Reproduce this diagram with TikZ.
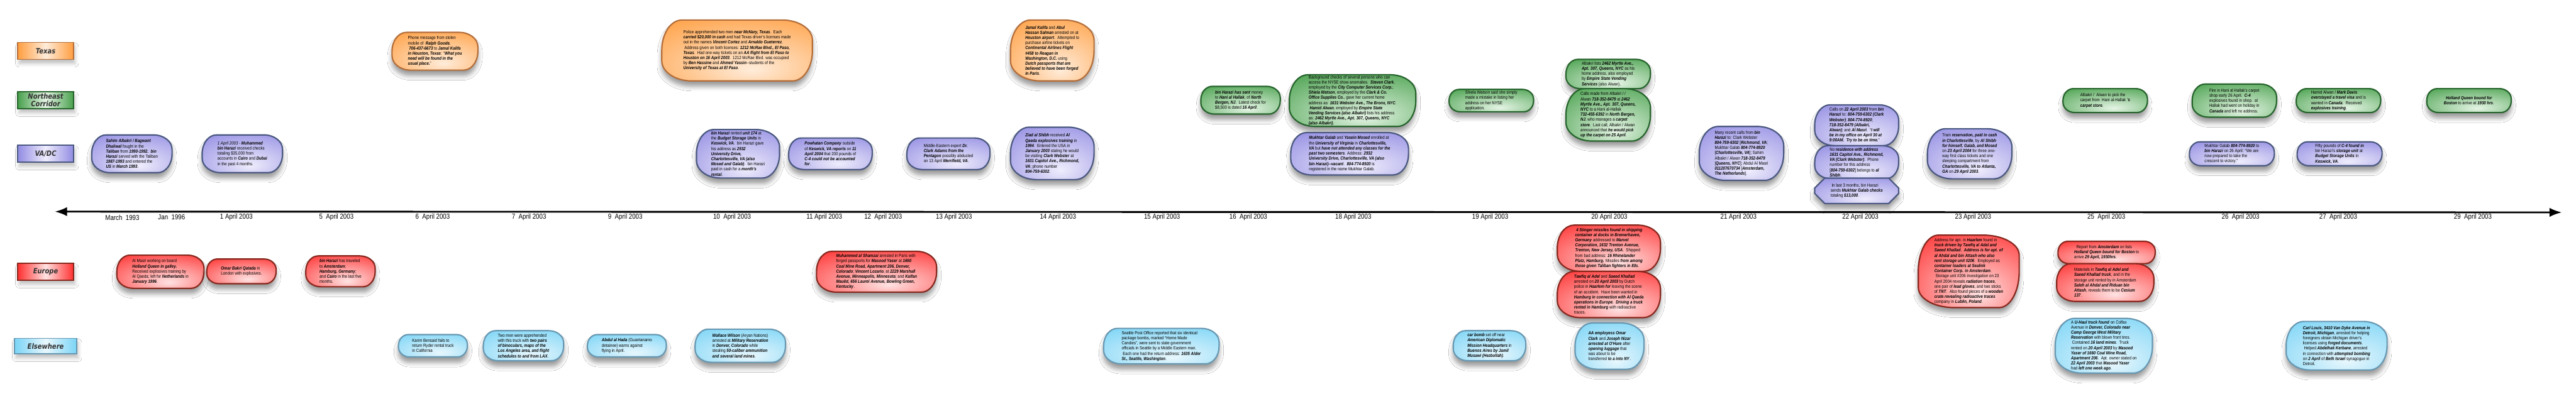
\documentclass[tikz,border=0pt]{standalone}
\usepackage{fontspec}
\setmainfont{Liberation Sans}[FakeStretch=0.86]
\newfontfamily\lanefont{DejaVu Sans}[FakeStretch=0.86]
\usetikzlibrary{arrows.meta,shapes.misc,shadows.blur}
\definecolor{txfill}{RGB}{255,158,64}\definecolor{txlite}{RGB}{255,236,218}\definecolor{txline}{RGB}{180,110,58}
\definecolor{nefill}{RGB}{72,160,76}\definecolor{nelite}{RGB}{228,244,228}\definecolor{neline}{RGB}{38,100,44}
\definecolor{vafill}{RGB}{146,140,226}\definecolor{valite}{RGB}{238,236,252}\definecolor{valine}{RGB}{74,88,128}
\definecolor{eufill}{RGB}{255,48,48}\definecolor{eulite}{RGB}{255,226,226}\definecolor{euline}{RGB}{135,40,30}
\definecolor{elfill}{RGB}{122,212,246}\definecolor{ellite}{RGB}{232,247,253}\definecolor{elline}{RGB}{104,152,178}
\definecolor{lanetext}{RGB}{50,50,50}
\pgfdeclareradialshading{txshade}{\pgfpoint{5bp}{-16bp}}{color(0bp)=(txlite); color(45bp)=(txfill); color(100bp)=(txfill)}
\pgfdeclareradialshading{neshade}{\pgfpoint{5bp}{-16bp}}{color(0bp)=(nelite); color(45bp)=(nefill); color(100bp)=(nefill)}
\pgfdeclareradialshading{vashade}{\pgfpoint{5bp}{-16bp}}{color(0bp)=(valite); color(45bp)=(vafill); color(100bp)=(vafill)}
\pgfdeclareradialshading{eushade}{\pgfpoint{5bp}{-16bp}}{color(0bp)=(eulite); color(45bp)=(eufill); color(100bp)=(eufill)}
\pgfdeclareradialshading{elshade}{\pgfpoint{5bp}{-16bp}}{color(0bp)=(ellite); color(45bp)=(elfill); color(100bp)=(elfill)}
\newcommand\bi[1]{\textbf{\textit{#1}}}
\tikzset{
  ellc/.code args={#1 and #2}{\pgfsetcornersarced{\pgfpoint{#1}{#2}}},
  evbase/.style={draw, line width=3pt, inner sep=0pt, align=left,
    font=\fontsize{9.8}{11.3}\selectfont, shade,
    blur shadow={shadow xshift=0pt, shadow yshift=-12pt, shadow blur radius=10pt, shadow opacity=40}},
  tx/.style={evbase, draw=txline, shading=txshade},
  ne/.style={evbase, draw=neline, shading=neshade},
  va/.style={evbase, draw=valine, shading=vashade},
  eu/.style={evbase, draw=euline, shading=eushade},
  el/.style={evbase, draw=elline, shading=elshade},
  lane/.style={draw, line width=2.4pt, inner sep=0pt, minimum width=122pt, minimum height=37.2pt,
    align=center, text=lanetext, font={\fontsize{16}{17}\lanefont\bfseries\itshape},
    blur shadow={shadow xshift=3pt, shadow yshift=-9pt, shadow blur radius=8pt, shadow opacity=25}},
  datelbl/.style={inner sep=0pt, font=\fontsize{15.6}{16}\selectfont}
}
\newcommand\evt[7]{%
  \pgfmathsetmacro\evh{#6*1.6905}%
  \pgfmathsetmacro\evry{\evh/2-0.6}%
  \pgfmathsetmacro\evrx{min(#6/2+7,44)}%
  \node[#2, minimum width=#5pt, minimum height=\evh pt, ellc=\evrx pt and \evry pt] (#1) at (#3,#4) {#7};}
\begin{document}
\begin{tikzpicture}[x=1pt,y=-1.6905pt]
\fill[white] (0,0) rectangle (5644,517);
\useasboundingbox (0,0) rectangle (5644,517);
% lanes
\node[lane, draw=txline, left color=txfill, right color=txfill, middle color=txlite] (lTexas) at (100,66) {Texas};
\node[lane, draw=neline, left color=nefill, right color=nefill, middle color=nelite] (lNE) at (100,130) {Northeast\\Corridor};
\node[lane, draw=valine, left color=vafill, right color=vafill, middle color=valite] (lVA) at (100,199.5) {VA/DC};
\node[lane, draw=euline, left color=eufill, right color=eufill, middle color=eulite] (lEU) at (100,352.5) {Europe};
\node[lane, draw=elline, left color=elfill, right color=elfill, middle color=ellite, minimum width=136pt, minimum height=33.8pt] (lEL) at (100,449) {Elsewhere};
% axis
\coordinate (axL) at (120,274.5);
\coordinate (axR) at (5613,275.5);
\draw[line width=4pt, {Latex[length=27pt,width=20pt]}-{Latex[length=27pt,width=20pt]}] (axL) -- (axR);
% dates
\node[datelbl] (d01) at (268,282) {March~~1993};
\node[datelbl] (d02) at (376,282) {Jan~~1996};
\node[datelbl] (d03) at (518,282) {1 April 2003};
\node[datelbl] (d04) at (737,282) {5~~April 2003};
\node[datelbl] (d05) at (948,282) {6~~April 2003};
\node[datelbl] (d06) at (1159,282) {7~~April 2003};
\node[datelbl] (d07) at (1370,282) {9~~April 2003};
\node[datelbl] (d08) at (1604,282) {10~~April 2003};
\node[datelbl] (d09) at (1806,282) {11 April 2003};
\node[datelbl] (d10) at (1935,282) {12~~April 2003};
\node[datelbl] (d11) at (2090,282) {13 April 2003};
\node[datelbl] (d12) at (2318,282) {14 April 2003};
\node[datelbl] (d13) at (2546,282) {15 April 2003};
\node[datelbl] (d14) at (2735,282) {16~~April 2003};
\node[datelbl] (d15) at (2965,282) {18 April 2003};
\node[datelbl] (d16) at (3265,282) {19 April 2003};
\node[datelbl] (d17) at (3526,282) {20 April 2003};
\node[datelbl] (d18) at (3809,282) {21 April 2003};
\node[datelbl] (d19) at (4076,282) {22 April 2003};
\node[datelbl] (d20) at (4323,282) {23 April 2003};
\node[datelbl] (d21) at (4615,282) {25~~April 2003};
\node[datelbl] (d22) at (4909,282) {26~~April 2003};
\node[datelbl] (d23) at (5123,282) {27~~April 2003};
\node[datelbl] (d24) at (5418,282) {29~~April 2003};
% Texas
\evt{t1}{tx}{953}{66.5}{188}{49}{Phone message from stolen\\mobile of~~\bi{Ralph Goode},\\~\bi{706-437-6673} to \bi{Jamal Kalifa}\\\bi{in Houston, Texas}: “\bi{What you}\\\bi{need will be found in the}\\\bi{usual place.}”}
\evt{t2}{tx}{1615}{65.5}{330}{79}{Police apprehended two men \bi{near McNary, Texas}.~~Each\\\bi{carried \$20,000 in cash} and had Texas driver’s licenses made\\out in the names \bi{Vincent Cortez} and \bi{Arnaldo Gueterrez}.\\~Address given on both licenses: \bi{1212 McRae Blvd., El Paso,}\\\bi{Texas}.~~Had one-way tickets on an \bi{AA flight from El Paso to}\\\bi{Houston on 16 April 2003}.~~1212 McRae Blvd. was occupied\\by \bi{Ben Hassine} and \bi{Ahmed Yassin}{-}{-}students of the\\\bi{University of Texas at El Paso}.}
\evt{t3}{tx}{2305.5}{65.5}{183}{79}{\bi{Jamal Kalifa} and \bi{Abul}\\\bi{Hassan Salman} arrested on at\\\bi{Houston airport}.~~Attempted to\\purchase airline tickets on\\\bi{Continental Airlines Flight}\\\bi{\#458 to Reagan in}\\\bi{Washington, D.C.} using\\\bi{Dutch passports that are}\\\bi{believed to have been forged}\\\bi{in Paris}.}
% Northeast
\evt{n1}{ne}{2718}{130}{174}{36}{\bi{bin Harazi has sent} money\\to \bi{Hani al Hallak}, of \bi{North}\\\bi{Bergen, NJ}.~~Latest check for\\\$8,500 is dated \bi{16 April}.}
\evt{n2}{ne}{2963.5}{130.5}{277}{67}{Background checks of several persons who can\\access the NYSE show anomalies.~~\bi{Steven Clark},\\employed by the \bi{City Computer Services Corp.};\\\bi{Shiela Watson}, employed by the \bi{Clark \& Co.}\\\bi{Office Supplies Co.}, gave her current home\\address as: \bi{1631 Webster Ave., The Bronx, NYC}.\\~\bi{Hamid Alwan}, employed by \bi{Empire State}\\\bi{Vending Services (also Albakri)} lists his address\\as: \bi{2462 Myrtle Ave., Apt. 307, Queens, NYC}\\\bi{(also Albakri)}.}
\evt{n3}{ne}{3267.5}{130.5}{185}{29}{Shiela Watson said she simply\\made a mistake in listing her\\address on her NYSE\\application.}
\evt{n4}{ne}{3523.5}{96}{185}{38}{Albakri lists \bi{2462 Myrtle Ave.,}\\\bi{Apt. 307, Queens, NYC} as his\\home address, also employed\\by \bi{Empire State Vending}\\\bi{Services} (also Alwan).}
\evt{n5}{ne}{3523.5}{149}{185}{68}{Calls made from Albakri / /\\Alwan \bi{718-352-8479} at \bi{2462}\\\bi{Myrtle Ave., Apt. 307, Queens,}\\\bi{NYC} to a Hani al-Hallak\\\bi{732-455-6392} in \bi{North Bergen,}\\\bi{NJ}, who manages a \bi{carpet}\\\bi{store}.~~Last call, Albakri / Alwan\\announced that \bi{he would pick}\\\bi{up the carpet on 25 April}.}
\evt{n6}{ne}{4612.5}{130.5}{185}{31}{Albakri /~~Alwan to pick the\\carpet from~~Hani al-Hallak \bi{’s}\\\bi{carpet store}.}
\evt{n7}{ne}{4895.5}{130.5}{185}{43}{Fire in Hani al Hallak’s carpet\\shop early 26 April.~~\bi{C-4}\\explosives found in shop.~~al\\Hallak had went on holiday in\\\bi{Canada} and left no address.}
\evt{n8}{ne}{5123.5}{130.5}{185}{31}{Hamid Alwan / \bi{Mark Davis}\\\bi{overstayed a travel visa} and is\\wanted in \bi{Canada}.~~Received\\\bi{explosives training}.}
\evt{n9}{ne,align=center}{5409.5}{130.5}{185}{31}{\bi{Holland Queen bound for}\\\bi{Boston} to arrive at \bi{1930 hrs}.}
% VA/DC
\evt{v1}{va}{289}{199.5}{176}{49}{\bi{Sahim Albakri / Bagwant}\\\bi{Dhaliwal} fought in the\\\bi{Taliban} from \bi{1990-1992.~~bin}\\\bi{Harazi} served with the Taliban\\\bi{1987-1993} and entered the\\\bi{US} in \bi{March 1993}.}
\evt{v2}{va}{531}{199.5}{176}{49}{\textit{1 April 2003} - \bi{Muhammed}\\\bi{bin Harazi} received checks\\totaling \$35,000 from\\accounts in \bi{Cairo} and \bi{Dubai}\\in the past 4 months.}
\evt{v3}{va}{1617}{199.5}{182}{63}{\bi{bin Harazi} rented \bi{unit 174} at\\the \bi{Budget Storage Units} in\\\bi{Keswick, VA}.~~bin Harazi gave\\his address as \bi{2932}\\\bi{University Drive,}\\\bi{Charlottesville, VA (also}\\\bi{Mosed and Galab)}.~~bin Harazi\\paid in cash for a \bi{month’s}\\\bi{rental}.}
\evt{v4}{va}{1819.5}{199.5}{183}{41}{\bi{Powhatan Company} outside\\of \bi{Keswick, VA reports} on \bi{11}\\\bi{April 2004} that 200 pounds of\\\bi{C-4 could not be accounted}\\\bi{for}.}
\evt{v5}{va}{2078}{199.5}{182}{41}{Middle-Eastern expert \bi{Dr.}\\\bi{Clark Adams from the}\\\bi{Pentagon} possibly abducted\\on 13 April \bi{Merrifield, VA}.}
\evt{v6}{va}{2305.5}{199}{183}{68}{\bi{Ziad al Shibh} received \bi{Al}\\\bi{Qaeda explosives training} in\\\bi{1994}.~~Entered the USA in\\\bi{January 2003} stating he would\\be visiting \bi{Clark Webster} at\\\bi{1631 Capitol Ave., Richmond,}\\\bi{VA}; phone number\\\bi{804-759-6302}.}
\evt{v7}{va}{2957}{199.5}{258}{55}{\bi{Mukhtar Galab} and \bi{Yasein Mosed} enrolled at\\the \bi{University of Virginia} in \bi{Charlottesville,}\\\bi{VA} but \bi{have not attended any classes for the}\\\bi{past two semesters}. Address: \bi{2932}\\\bi{University Drive, Charlottesville, VA (also}\\\bi{bin Harazi){-}{-}vacant}.~~\bi{804-774-8920} is\\registered in the name Mukhtar Galab.}
\evt{v8}{va}{3815.5}{199}{185}{70}{Many recent calls from \bi{bin}\\\bi{Harazi} to: Clark Webster\\\bi{804-759-6302} [\bi{Richmond, VA};\\Mukhtar Galab \bi{804-774-8920}\\{}[\bi{Charlottesville, VA}]; Sahim\\Albakri / Alwan \bi{718-352-8479}\\{}[\bi{Queens, NYC}]; Abdul Al Masri\\\bi{011207670734} [\bi{Amsterdam,}\\\bi{The Netherlands}].}
\evt{v9}{va}{4068}{162.5}{184}{53}{Calls on \bi{22 April 2003} from \bi{bin}\\\bi{Harazi} to: \bi{804-759-6302 (Clark}\\\bi{Webster)}; \bi{804-774-8920};\\\bi{718-352-8479 (Albakri,}\\\bi{Alwan)}; and \bi{Al Masri}.~~“\bi{I will}\\\bi{be in my office on April 30 at}\\\bi{9:00AM.~~Try to be on time.}”}
\evt{v10}{va}{4068}{210.5}{184}{43}{No \bi{residence with address}\\\bi{1631 Capitol Ave., Richmond,}\\\bi{VA (Clark Webster)}.~~Phone\\number for this address\\{}[\bi{804-759-6302}] belongs to \bi{al}\\\bi{Shibh}.}
\node[va, chamfered rectangle, chamfered rectangle xsep=10pt, chamfered rectangle ysep=12pt, minimum width=184pt, minimum height=52.4pt] (v11) at (4068,247.5) {~In last 3 months, bin Harazi\\sends \bi{Mukhtar Galab checks}\\totaling \bi{\$13,000}.};
\evt{v12}{va}{4315.5}{199.5}{185}{65}{Train \bi{reservation, paid in cash}\\\bi{in Charlottesville}, by \bi{Al Shibh}\\\bi{for himself, Galab, and Mosed}\\on \bi{23 April 2004} for three one-\\way first class tickets and one\\sleeping compartment from\\\bi{Charlottesville, VA to Atlanta,}\\\bi{GA} on \bi{29 April 2003}.}
\evt{v13}{va}{4890}{199.5}{186}{31}{Mukhtar Galab \bi{804-774-8920} to\\\bi{bin Harazi} on 26 April: “We are\\now prepared to take the\\crescent to victory.”}
\evt{v14}{va}{5126}{199.5}{186}{31}{Fifty pounds of \bi{C-4 found in}\\bin Harazi’s \bi{storage unit} at\\\bi{Budget Storage Units} in\\\bi{Keswick, VA}.}
% Europe
\evt{e1}{eu}{351.5}{352.5}{191}{43}{Al Masri working on board\\\bi{Holland Queen in galley.}\\Received explosives training by\\Al Qaeda; left for \bi{Netherlands} in\\\bi{January 1996}.}
\evt{e2}{eu}{529}{352}{152}{32}{\bi{Omar Bakri Qatada} in\\London with explosives.}
\evt{e3}{eu}{746}{352}{152}{40}{\bi{bin Harazi} has traveled\\to \bi{Amsterdam};\\\bi{Hamburg, Germany};\\and \bi{Cairo} in the last five\\months.}
\evt{e4}{eu}{1920.5}{352.5}{263}{53}{\bi{Muhammed al Shamzai} arrested in Paris with\\forged passports for \bi{Masood Yaser} at \bi{1660}\\\bi{Coal Mine Road, Apartment 206, Denver,}\\\bi{Colorado}; \bi{Vincent Lozario}, at \bi{2229 Marshall}\\\bi{Avenue, Minneapolis, Minnesota}; and \bi{Kalfan}\\\bi{Maulid, 656 Laurel Avenue, Bowling Green,}\\\bi{Kentucky}.}
\evt{e5}{eu}{3525}{322}{226}{60}{~\bi{4 Stinger missiles found in shipping}\\\bi{container at docks in Bremerhaven,}\\\bi{Germany} addressed to \bi{Marvel}\\\bi{Corporation, 1632 Trenton Avenue,}\\\bi{Trenton, New Jersey, USA}.~~Shipped\\from bad address: \bi{16 Rhinelander}\\\bi{Platz, Hamburg.} Missiles \bi{from among}\\\bi{those given Taliban fighters in 80s}.}
\evt{e6}{eu}{3525}{382}{226}{60}{\bi{Tawfiq al Adel} and \bi{Saeed Khallad}\\arrested on \bi{20 April 2003} by Dutch\\police in \bi{Haarlem for} leaving the scene\\of an accident.~~Have been wanted in\\\bi{Hamburg in connection with Al Qaeda}\\\bi{operations in Europe}.~~\bi{Driving a truck}\\\bi{rented in Hamburg} with radioactive\\traces.}
\evt{e7}{eu}{4313.5}{352}{221}{94}{Address for apt. in \bi{Haarlem} found in\\\bi{truck driven by Tawfiq al Adal and}\\\bi{Saeed Khallad}.~~\bi{Address is for apt. of}\\\bi{al Ahdal and bin Attash who also}\\\bi{rent storage unit \#206}.~~Employed as\\\bi{container loaders at Sealink}\\\bi{Container Corp. in Amsterdam}.\\~Storage unit \#206 investigation on 23\\April 2004 reveals \bi{radiation traces},\\one pair of \bi{lead gloves}, and two sticks\\of \bi{TNT}.~~Also found pieces of a \bi{wooden}\\\bi{crate revealing radioactive traces}\\company in \bi{Lublin, Poland}.}
\evt{e8}{eu}{4615.5}{327.5}{213}{29}{~~Report from \bi{Amsterdam} on lists\\\bi{Holland Queen bound for Boston} to\\arrive \bi{29 April, 1930hrs}.}
\evt{e9}{eu}{4612.5}{366.5}{213}{49}{Materials in \bi{Tawfiq al Adel and}\\\bi{Saeed Khallad truck}, and in the\\storage unit rented by in Amsterdam\\\bi{Saleh al Ahdal and Riduan bin}\\\bi{Attash}, reveals them to be \bi{Cesium}\\\bi{137}.}
% Elsewhere
\evt{s1}{el}{948.5}{448.5}{151}{29}{Karim Bensaid fails to\\return Ryder rental truck\\in California}
\evt{s2}{el}{1147}{448.5}{176}{39}{Two men were apprehended\\with this truck with \bi{two pairs}\\\bi{of binoculars, maps of the}\\\bi{Los Angeles area, and flight}\\\bi{schedules to and from LAX}.}
\evt{s3}{el}{1373.5}{448.5}{173}{29}{\bi{Abdul al Hada} (Guantanamo\\detainee) warns against\\flying in April.}
\evt{s4}{el}{1622}{448.5}{198}{43}{\bi{Wallace Wilson} (Aryan Nations)\\arrested at \bi{Military Reservation}\\in \bi{Denver, Colorado} while\\stealing \bi{50-caliber ammunition}\\\bi{and several land mines}.}
\evt{s5}{el}{2544.5}{449}{253}{46}{Seattle Post Office reported that six identical\\package bombs, marked “Home Made\\Candies”, were sent to state government\\officials in Seattle by a Middle Eastern man.\\~Each one had the return address: \bi{1635 Alder}\\\bi{St., Seattle, Washington}.}
\evt{s6}{el}{3263.5}{448.5}{159}{39}{\bi{car bomb} set off near\\\bi{American Diplomatic}\\\bi{Mission Headquarters} in\\\bi{Buenos Aires by Jamil}\\\bi{Musawi (Hezbollah)}.}
\evt{s7}{el}{3526.5}{449}{151}{60}{\bi{AA employess Omar}\\\bi{Clark} and \bi{Joseph Nizar}\\\bi{arrested at O’Hare} after\\\bi{opening luggage} that\\was about to be\\transferred \bi{to a into NY}.}
\evt{s8}{el}{4609.5}{448.5}{213}{71}{A \bi{U-Haul truck found} on Colfax\\Avenue in \bi{Denver, Colorado near}\\\bi{Camp George West Military}\\\bi{Reservation} with blown front tires.\\~Contained \bi{16 land mines}.~~Truck\\rented on \bi{20 April 2003} by \bi{Masood}\\\bi{Yaser of 1660 Coal Mine Road,}\\\bi{Apartment 206}.~~Apt. owner stated on\\\bi{22 April 2003} that \bi{Masood Yaser}\\had \bi{left one week ago}.}
\evt{s9}{el}{5119.5}{448.5}{221}{63}{\bi{Carl Louis, 3410 Van Dyke Avenue in}\\\bi{Detroit, Michigan}, arrested for helping\\foreigners obtain Michigan driver’s\\licenses using \bi{forged documents}.\\~Helped \bi{Abdelhak Kerbane}, arrested\\in connection with \bi{attempted bombing}\\on \bi{2 April} of \bi{Beth Israel} synagogue in\\Detroit.}
\end{tikzpicture}
\end{document}
